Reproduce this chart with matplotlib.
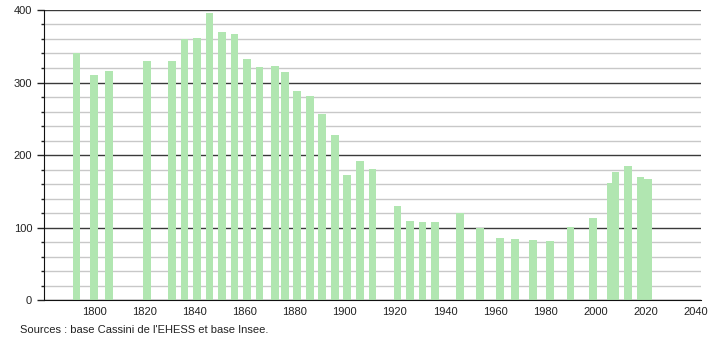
import matplotlib
matplotlib.use('Agg')
import matplotlib.pyplot as plt
from matplotlib.ticker import MultipleLocator

years = [1793, 1800, 1806, 1821, 1831, 1836, 1841, 1846, 1851, 1856,
         1861, 1866, 1872, 1876, 1881, 1886, 1891, 1896, 1901, 1906,
         1911, 1921, 1926, 1931, 1936, 1946, 1954, 1962, 1968, 1975,
         1982, 1990, 1999, 2006, 2008, 2013, 2018, 2021]
population = [341, 310, 316, 330, 329, 360, 362, 396, 370, 367,
              332, 321, 323, 315, 288, 282, 257, 227, 173, 192,
              181, 130, 109, 108, 107, 120, 100, 86, 84, 83,
              82, 101, 113, 161, 176, 185, 170, 167]
x_ticks = [1800, 1820, 1840, 1860, 1880, 1900, 1920, 1940, 1960, 1980, 2000, 2020, 2040]

plt.rcParams['font.family'] = ['Liberation Sans', 'DejaVu Sans']

fig = plt.figure(figsize=(7.1, 3.4), dpi=100)
ax = fig.add_axes([0.062, 0.1176, 0.925, 0.853])

# grid lines first, bars on top
ax.yaxis.set_major_locator(MultipleLocator(100))
ax.yaxis.set_minor_locator(MultipleLocator(20))
ax.grid(which='minor', axis='y', color='#c8c8c8', linewidth=1)
ax.grid(which='major', axis='y', color='#3a3a3a', linewidth=1)
ax.set_axisbelow(True)

ax.bar(years, population, width=3.1, color='#b1e6b1', zorder=2)

ax.set_xlim(1780, 2042)
ax.set_ylim(0, 400)
ax.set_xticks(x_ticks)
ax.tick_params(axis='x', length=0, labelsize=8, pad=5, colors='#222222')
ax.tick_params(axis='y', which='major', length=5, width=1, labelsize=8, colors='#222222')
ax.tick_params(axis='y', which='minor', length=2.5, width=1, colors='#222222')

for s in ['top', 'right']:
    ax.spines[s].set_visible(False)
ax.spines['left'].set_color('#111111')
ax.spines['bottom'].set_color('#111111')

fig.text(0.028, 0.02, "Sources : base Cassini de l'EHESS et base Insee.", fontsize=8, color='#222222')

plt.savefig('out.png', dpi=100)
